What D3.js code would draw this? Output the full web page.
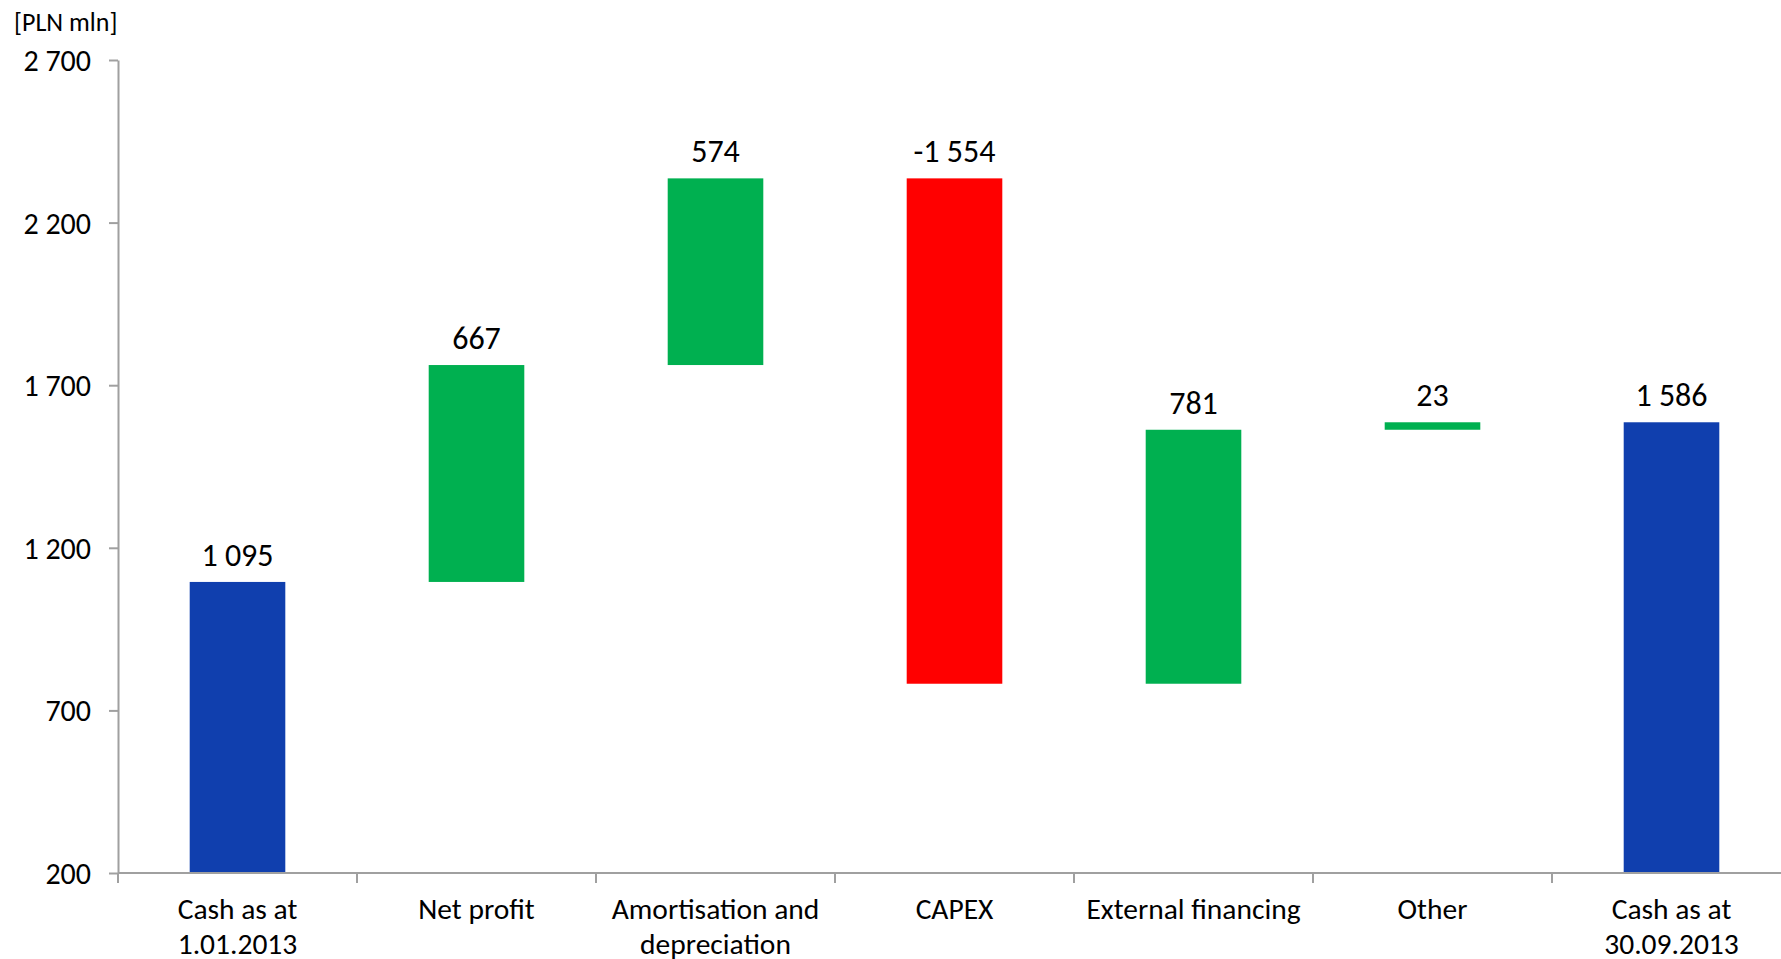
<!DOCTYPE html>
<html>
<head>
<meta charset="utf-8">
<script src="https://cdn.jsdelivr.net/npm/d3@7"></script>
<style>
  body { margin: 0; background: #fff; }
  text { font-family: Carlito, Calibri, Lato, "Open Sans", sans-serif; fill: #000; }
</style>
</head>
<body>
<div id="chart"></div>
<script>
// waterfall data
var categories = ["Cash as at|1.01.2013", "Net profit", "Amortisation and|depreciation", "CAPEX", "External financing", "Other", "Cash as at|30.09.2013"];
var values = [1095, 667, 574, -1554, 781, 23, 1586];
var kinds = ["total", "delta", "delta", "delta", "delta", "delta", "total"];
var valueLabels = ["1 095", "667", "574", "-1 554", "781", "23", "1 586"];
var yTicks = [200, 700, 1200, 1700, 2200, 2700];

var width = 1781;
var height = 959;
var margin = { top: 60, right: -10, bottom: 86, left: 118 };

var svg = d3.select("#chart").append("svg").attr("width", width).attr("height", height);

var x = d3.scaleBand().domain(d3.range(categories.length))
  .range([margin.left, width - margin.right]).paddingInner(0.6).paddingOuter(0.3);
var xOuter = d3.scaleBand().domain(d3.range(categories.length))
  .range([margin.left, width - margin.right]);
var y = d3.scaleLinear().domain([200, 2700]).range([height - margin.bottom, margin.top]);

// running totals
var running = 0;
var bars = values.map(function(v, i) {
  var b;
  if (kinds[i] == "total") {
    b = { y0: 200, y1: v, color: "#103FAE" };
    running = v;
  } else {
    b = { y0: running, y1: running + v, color: v < 0 ? "#FF0000" : "#00B050" };
    running += v;
  }
  b.i = i;
  return b;
});

svg.selectAll("rect.bar").data(bars).enter().append("rect")
  .attr("class", "bar")
  .attr("x", d => x(d.i))
  .attr("width", x.bandwidth())
  .attr("y", d => y(Math.max(d.y0, d.y1)))
  .attr("height", d => Math.abs(y(d.y0) - y(d.y1)))
  .attr("fill", d => d.color);

// value labels
svg.selectAll("text.val").data(bars).enter().append("text")
  .attr("class", "val")
  .attr("x", d => x(d.i) + x.bandwidth() / 2)
  .attr("y", d => y(Math.max(d.y0, d.y1)) - 16)
  .attr("text-anchor", "middle")
  .style("font-size", "32px")
  .text(d => valueLabels[d.i]);

// y axis
var yAxis = d3.axisLeft(y).tickValues(yTicks).tickSize(9).tickSizeOuter(0)
  .tickFormat(d => d3.format(",")(d).replace(/,/g, " "));
var gy = svg.append("g").attr("transform", "translate(" + margin.left + ",0)").call(yAxis);
gy.selectAll("line, path").attr("stroke", "#a0a0a0").attr("stroke-width", 2);
gy.selectAll("text").attr("x", -27).style("font-size", "30px").attr("dy", "0.35em");

// x axis
var gx = svg.append("g").attr("transform", "translate(0," + y(200) + ")");
gx.append("line").attr("x1", margin.left).attr("x2", width)
  .attr("stroke", "#a0a0a0").attr("stroke-width", 2);
gx.selectAll("line.tick").data(d3.range(categories.length)).enter().append("line")
  .attr("class", "tick")
  .attr("x1", d => xOuter(d)).attr("x2", d => xOuter(d))
  .attr("y1", 0).attr("y2", 10)
  .attr("stroke", "#a0a0a0").attr("stroke-width", 2);
var labels = gx.selectAll("text.cat").data(categories).enter().append("text")
  .attr("class", "cat")
  .attr("text-anchor", "middle")
  .style("font-size", "29.5px")
  .attr("transform", (d, i) => "translate(" + (xOuter(i) + xOuter.bandwidth() / 2) + ",46)");
labels.selectAll("tspan").data(d => d.split("|")).enter().append("tspan")
  .attr("x", 0).attr("dy", (d, j) => j == 0 ? 0 : 35).text(d => d);

// unit label
svg.append("text").attr("x", 14).attr("y", 31).style("font-size", "26px").text("[PLN mln]");
</script>
</body>
</html>
